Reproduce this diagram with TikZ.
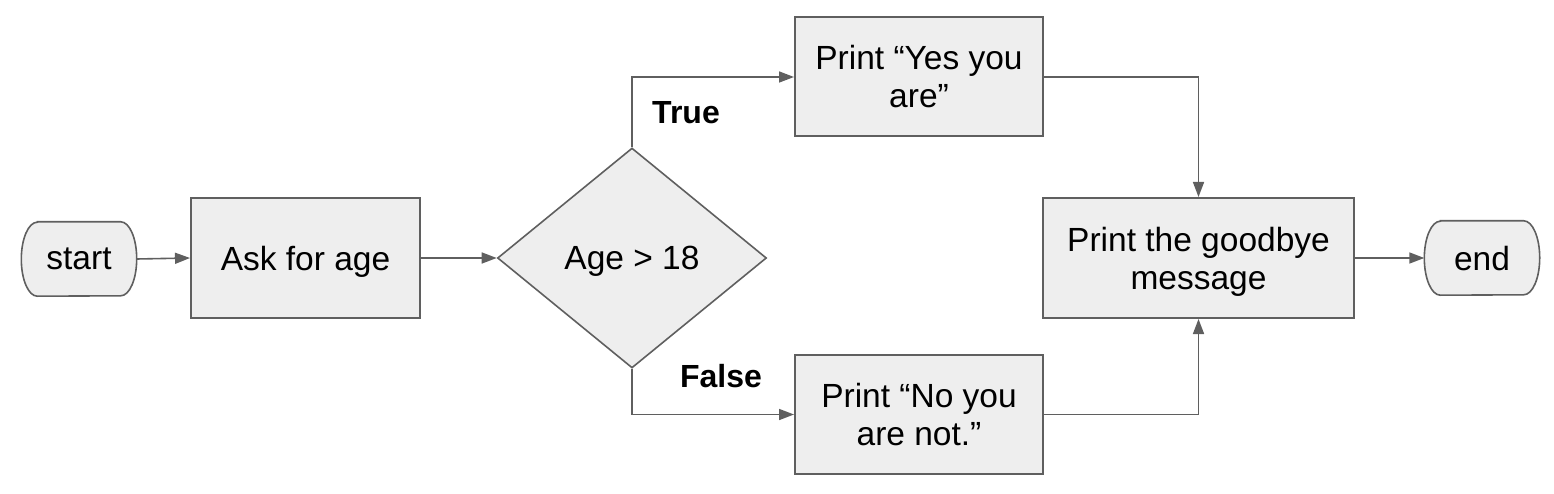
\documentclass[tikz,border=0pt]{standalone}
\usepackage{fontspec}
\setmainfont{Liberation Sans}
\usetikzlibrary{shapes.geometric,arrows.meta,backgrounds}
\definecolor{boxfill}{HTML}{EEEEEE}
\definecolor{boxline}{HTML}{5F5F5F}
\begin{document}
\begin{tikzpicture}[x=1pt,y=-1pt,
  every node/.style={font=\fontsize{33.5}{38}\selectfont, text=black},
  procbox/.style={draw=boxline, fill=boxfill, line width=2pt, rectangle, align=center, inner sep=0pt},
  termbox/.style={draw=none, fill=none, minimum width=115pt, minimum height=74pt, inner sep=0pt},
  termline/.style={draw=boxline, fill=boxfill, line width=1.6pt},
  decision/.style={draw=boxline, fill=boxfill, line width=1.6pt, diamond, aspect=1.2227, minimum width=269pt, minimum height=220pt, inner sep=0pt},
  conn/.style={draw=boxline, line width=1.6pt, -{Triangle[length=15pt,width=11pt]}},
  lbl/.style={font=\fontsize{32}{37}\selectfont\bfseries}
]
\useasboundingbox (0,0) rectangle (1554,494);

\node[termbox, text depth=0pt] (start) at (79,259) {start};
\node[termbox, text depth=0pt] (end) at (1482,258) {end};
\begin{scope}[on background layer]
  \foreach \n in {start,end}{
    \draw[termline] ([xshift=16pt]\n.north west) -- ([xshift=-16pt]\n.north east)
      arc[start angle=90,end angle=-90,x radius=16pt,y radius=37pt]
      -- ([xshift=16pt]\n.south west)
      arc[start angle=270,end angle=90,x radius=16pt,y radius=37pt] -- cycle;
  }
\end{scope}

\node[procbox, minimum width=229pt, minimum height=120pt, text depth=0pt] (ask) at (305.5,258) {Ask for age};
\node[decision, text depth=0pt] (dec) at (632,258) {Age > 18};
\node[procbox, minimum width=248pt, minimum height=119pt] (yes) at (919,77) {Print “Yes you\\are”};
\node[procbox, minimum width=248pt, minimum height=119pt] (no) at (919,414.5) {Print “No you\\are not.”};
\node[procbox, minimum width=311pt, minimum height=120pt] (bye) at (1198.5,258) {Print the goodbye\\\smash{message}};

\draw[conn] (start.east) -- (ask.west);
\draw[conn] (ask.east) -- (dec.west);
\draw[conn] (dec.north) |- (yes.west);
\draw[conn] (dec.south) |- (no.west);
\draw[conn] (yes.east) -| (bye.north);
\draw[conn] (no.east) -| (bye.south);
\draw[conn] (bye.east) -- (end.west);

\node[lbl] (tlbl) at (686,113) {True};
\node[lbl] (flbl) at (721,376) {False};
\end{tikzpicture}
\end{document}
